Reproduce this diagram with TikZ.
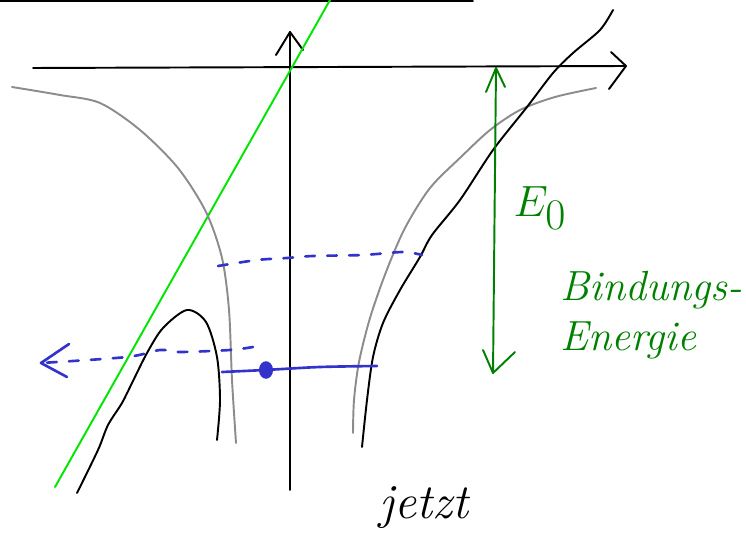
\documentclass[tikz,border=0pt]{standalone}
\usepackage{tikz}
\usetikzlibrary{arrows, shapes.geometric}

\definecolor{penblue}{RGB}{51,51,204}
\definecolor{pengreen}{RGB}{0,128,0}
\definecolor{lightgreen}{RGB}{0,230,0}
\definecolor{pengray}{RGB}{140,140,140}

\begin{document}
\begin{tikzpicture}[x=0.02cm, y=-0.02cm, line cap=round, line join=round]
    \tikzstyle{axis} = [draw, black, line width=1.1pt]
    \tikzstyle{potential} = [draw, pengray, line width=1.1pt]
    \tikzstyle{curve} = [draw, black, line width=1.1pt]
    \tikzstyle{level} = [draw, penblue, line width=1.5pt]
    \tikzstyle{dashlevel} = [level, dash pattern=on 5.5pt off 7pt]
    \tikzstyle{energy} = [draw, pengreen, line width=1.1pt]
    \tikzstyle{note} = [font=\itshape\fontsize{24}{28}\selectfont, inner sep=0pt]
    \useasboundingbox (0,0) rectangle (746,536);

    % axes
    \coordinate (topleft) at (0,1);
    \coordinate (topright) at (473,1);
    \draw [black, line width=0.9pt] (topleft) -- (topright);
    \coordinate (xstart) at (33,68);
    \coordinate (xend) at (626,66);
    \coordinate (ystart) at (290,490);
    \coordinate (yend) at (290,32);
    \path [axis] (xstart) -- (xend);
    \path [axis] (611,52) -- (xend) -- (609,89);
    \path [axis] (ystart) -- (yend);
    \path [axis] (276,55) -- (yend) -- (303,50);

    % field line
    \coordinate (fieldlow) at (55,487);
    \coordinate (fieldhigh) at (330,0);
    \draw [lightgreen, line width=1.1pt] (fieldlow) -- (fieldhigh);

    % potential without field
    \path [potential] plot [smooth] coordinates {(12,87) (60,95) (100,103) (140,130) (178,168) (206,212) (222,258) (229,310) (232,380) (236,443)};
    \path [potential] plot [smooth] coordinates {(596,88) (555,97) (520,110) (490,130) (462,156) (430,188) (405,228) (386,272) (370,318) (359,362) (354,400) (353,433)};

    % potential with field
    \path [curve] plot [smooth] coordinates {(613,10) (600,30) (573,53) (553,73) (527,107) (493,150) (460,200) (432,235) (420,257) (400,290) (383,323) (373,357) (367,400) (362,447)};
    \path [curve] plot [smooth] coordinates {(77,493) (98,450) (108,425) (122,403) (132,383) (147,353) (163,328) (187,310) (206,322) (217,357) (220,400) (217,440)};

    % levels
    \coordinate (boundleft) at (222,372);
    \coordinate (boundright) at (377,366);
    \path [level] plot [smooth] coordinates {(boundleft) (265,370) (320,367) (boundright)};
    \node [fill=penblue, ellipse, minimum width=8pt, minimum height=10pt, inner sep=0pt] (electron) at (266,370) {};
    \path [dashlevel] plot [smooth] coordinates {(218,266) (257,260) (287,258) (313,256) (363,255) (403,252) (422,255)};
    \coordinate (tunnelstart) at (253,347);
    \coordinate (tunnelend) at (41,363);
    \path [dashlevel] plot [smooth] coordinates {(tunnelstart) (230,350) (180,352) (160,350) (127,357) (tunnelend)};
    \path [level] (69,344) -- (tunnelend) -- (67,377);

    % binding energy
    \coordinate (etop) at (496,68);
    \coordinate (ebottom) at (493,373);
    \path [energy] (etop) -- (ebottom);
    \path [energy] (486,92) -- (etop) -- (505,87);
    \path [energy] (483,350) -- (ebottom) -- (515,352);

    % labels
    \node [note, pengreen, font=\itshape\fontsize{40}{44}\selectfont] (ezero) at (540,208) {$E_0$};
    \node [note, pengreen, anchor=west] (bindung) at (560,290) {Bindungs-};
    \node [note, pengreen, anchor=west] (energie) at (560,340) {Energie};
    \node [note, black, font=\itshape\fontsize{28}{32}\selectfont] (jetzt) at (424,508) {jetzt};
\end{tikzpicture}
\end{document}
